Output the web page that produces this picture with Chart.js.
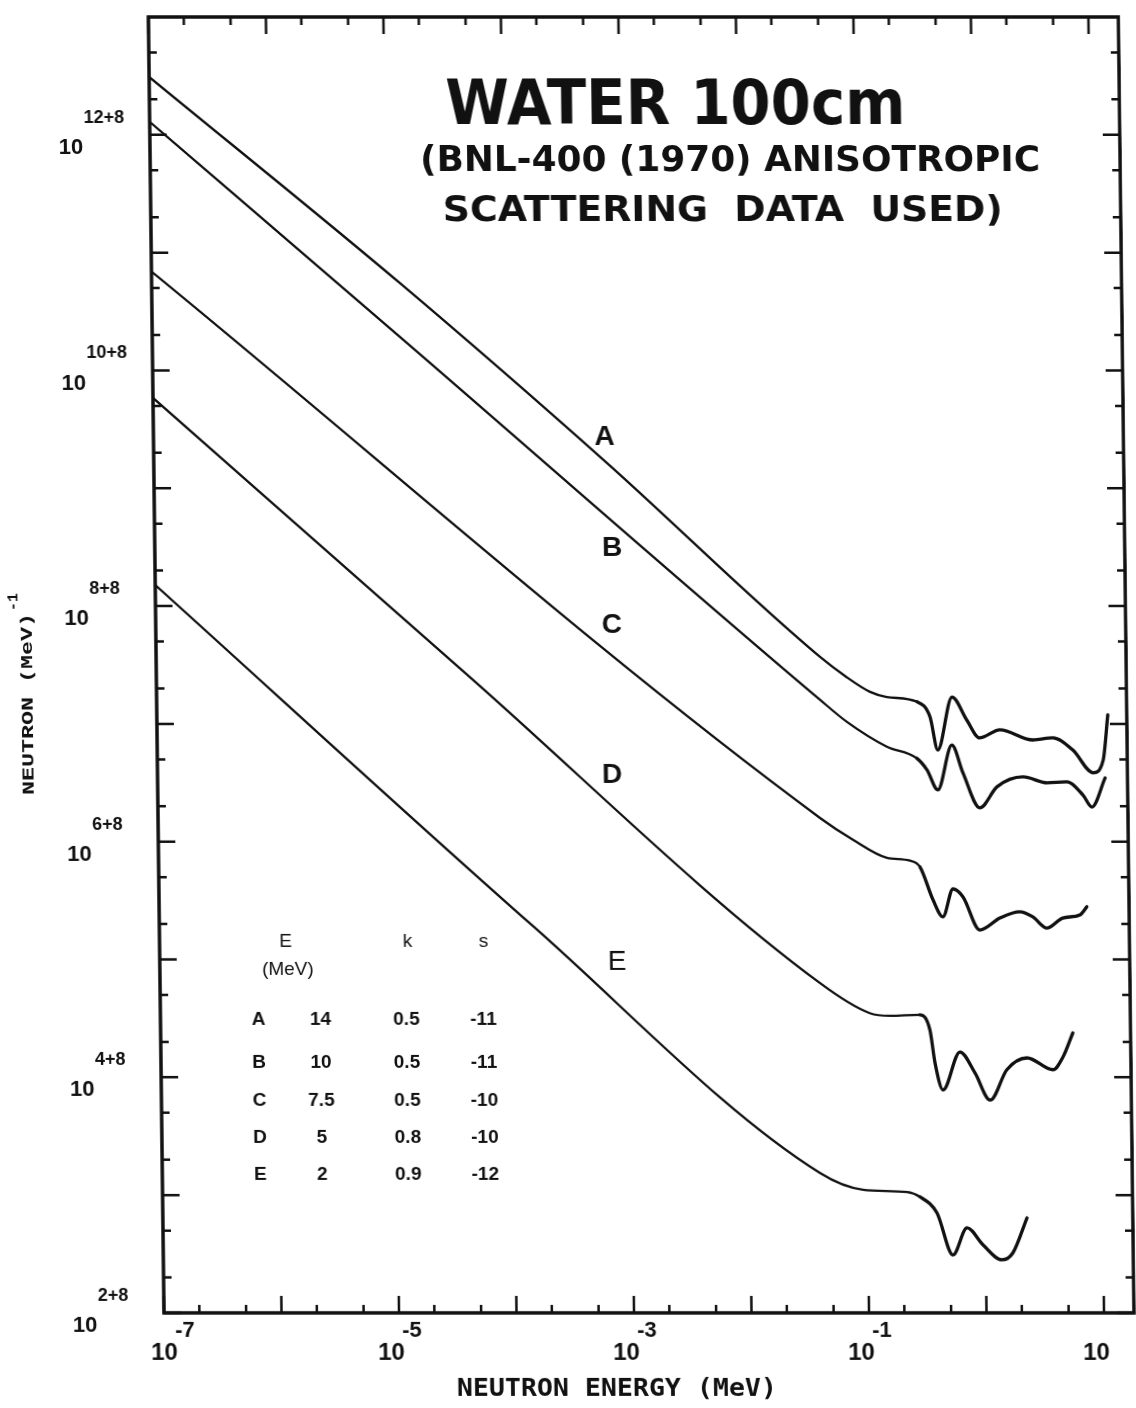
<!DOCTYPE html>
<html>
<head>
<meta charset="utf-8">
<script src="https://cdn.jsdelivr.net/npm/chart.js@4.4.1/dist/chart.umd.min.js"></script>
<style>
  html, body { margin: 0; padding: 0; background: #fff; }
  #plot { display: block; transform: skewX(0.69deg); transform-origin: 0 1313px; }
</style>
</head>
<body>
<canvas id="plot" width="1136" height="1408"></canvas>
<script>
// neutron spectra, energy in MeV, flux per MeV
const energyA = [1e-7, 1.3e-5, 6.9e-4, 0.0447, 0.0726, 0.118, 0.164, 0.296, 0.38, 0.44, 0.588, 0.78, 1.0, 1.49, 2.84, 4.2, 6.2, 9.2, 11.2, 12.4];
const fluxA   = [3.1e12, 5.5e10, 1.7e9, 3.7e7, 2.55e7, 1.87e7, 1.69e7, 1.54e7, 1.15e7, 6.0e6, 1.69e7, 1.08e7, 7.6e6, 8.9e6, 7.3e6, 7.6e6, 6.0e6, 3.84e6, 4.9e6, 1.19e7];

const energyB = [1e-7, 1.28e-5, 0.0443, 0.0745, 0.162, 0.291, 0.354, 0.436, 0.58, 0.716, 0.99, 1.39, 2.32, 3.71, 5.47, 7.48, 8.9, 11.6];
const fluxB   = [1.29e12, 1.93e10, 1.6e7, 1.04e7, 6.4e6, 5.1e6, 4.07e6, 2.75e6, 6.6e6, 3.84e6, 1.94e6, 2.92e6, 3.55e6, 3.16e6, 3.22e6, 2.49e6, 1.97e6, 3.48e6];

const energyC = [1e-7, 0.043, 0.0815, 0.158, 0.248, 0.302, 0.387, 0.468, 0.573, 0.696, 0.96, 1.43, 2.11, 2.72, 3.57, 4.9, 6.85, 7.86];
const fluxC   = [6.9e10, 1.59e6, 1.04e6, 7.3e5, 6.9e5, 6.1e5, 3.2e5, 2.3e5, 3.97e5, 3.4e5, 1.78e5, 2.25e5, 2.54e5, 2.3e5, 1.85e5, 2.25e5, 2.39e5, 2.8e5];

const energyD = [1e-7, 4.24e-5, 0.0414, 0.109, 0.162, 0.291, 0.353, 0.387, 0.45, 0.632, 0.844, 1.13, 1.58, 2.35, 3.9, 4.76, 5.8];
const fluxD   = [5.85e9, 2.71e7, 6.3e4, 3.5e4, 3.32e4, 3.39e4, 2.52e4, 1.32e4, 7.8e3, 1.64e4, 1.09e4, 6.4e3, 1.16e4, 1.46e4, 1.16e4, 1.49e4, 2.38e4];

const energyE = [1e-7, 1.54e-4, 0.0395, 0.0916, 0.217, 0.279, 0.388, 0.526, 0.697, 0.95, 1.37, 1.70, 2.26];
const fluxE   = [1.51e8, 1.89e5, 1.54e3, 1.11e3, 1.06e3, 966, 706, 310, 527, 378, 282, 323, 640];

// letter written next to each curve (energy, flux where it sits)
const curveNames  = ['A', 'B', 'C', 'D', 'E'];
const labelEnergy = [6.9e-4, 7.8e-4, 7.6e-4, 7.4e-4, 7.8e-4];
const labelFlux   = [2.7e9, 3.1e8, 6.9e7, 3.7e6, 9.5e4];

// source table in the lower left
const tableSource = ['A', 'B', 'C', 'D', 'E'];
const tableEnergy = ['14', '10', '7.5', '5', '2'];
const tableK      = ['0.5', '0.5', '0.5', '0.8', '0.9'];
const tableS      = ['-11', '-11', '-10', '-10', '-12'];

// axes
const xDecades   = [-7, -6, -5, -4, -3, -2, -1, 0, 1];
const yDecades   = [2, 3, 4, 5, 6, 7, 8, 9, 10, 11, 12];
const minorSteps = [1, 2, 5];
const xLabelExps = [-7, -5, -3, -1, 1];
const xLabelSups = ['-7', '-5', '-3', '-1', ''];
const yLabelExps = [12, 10, 8, 6, 4, 2];
const yLabelSups = ['12+8', '10+8', '8+8', '6+8', '4+8', '2+8'];

const ink = '#111';

function points(es, fs) {
  return es.map((e, i) => ({ x: e, y: fs[i] }));
}

function fitText(ctx, text, x, y, w, font) {
  ctx.font = font;
  const m = ctx.measureText(text).width;
  ctx.save();
  ctx.translate(x, y);
  ctx.scale(w / m, 1);
  ctx.textAlign = 'left';
  ctx.fillText(text, 0, 0);
  ctx.restore();
}

const paperPlugin = {
  id: 'paper',
  afterDraw(chart) {
    const ctx = chart.ctx;
    const a = chart.chartArea;
    const xs = chart.scales.x, ys = chart.scales.y;
    ctx.save();
    ctx.strokeStyle = ink;
    ctx.fillStyle = ink;

    // frame
    ctx.lineWidth = 3.5;
    ctx.strokeRect(a.left, a.top, a.right - a.left, a.bottom - a.top);

    // inward ticks on all four sides
    ctx.lineWidth = 2.5;
    ctx.beginPath();
    xDecades.forEach(d => minorSteps.forEach(m => {
      const v = m * Math.pow(10, d);
      if (v < xs.min || v > xs.max) return;
      const px = xs.getPixelForValue(v);
      const len = m === 1 ? 17 : 8;
      ctx.moveTo(px, a.bottom); ctx.lineTo(px, a.bottom - len);
      ctx.moveTo(px, a.top); ctx.lineTo(px, a.top + len);
    }));
    yDecades.forEach(d => minorSteps.forEach(m => {
      const v = m * Math.pow(10, d);
      if (v < ys.min || v > ys.max) return;
      const py = ys.getPixelForValue(v);
      const len = m === 1 ? 17 : 8;
      ctx.moveTo(a.left, py); ctx.lineTo(a.left + len, py);
      ctx.moveTo(a.right, py); ctx.lineTo(a.right - len, py);
    }));
    ctx.stroke();

    // tick labels
    ctx.textBaseline = 'middle';
    xLabelExps.forEach((e, i) => {
      const px = xs.getPixelForValue(Math.pow(10, e)) + (i === 0 ? 8 : 0);
      ctx.textAlign = 'center';
      ctx.font = 'bold 24px "Liberation Sans"';
      ctx.fillText('10', px - 8, a.bottom + 40);
      ctx.textAlign = 'left';
      ctx.font = 'bold 22px "Liberation Sans"';
      ctx.fillText(xLabelSups[i], px + 3, a.bottom + 18);
    });
    yLabelExps.forEach((e, i) => {
      const py = ys.getPixelForValue(Math.pow(10, e));
      ctx.textAlign = 'center';
      ctx.font = 'bold 22px "Liberation Sans"';
      ctx.fillText('10', a.left - 79, py + 13);
      ctx.textAlign = 'left';
      ctx.font = 'bold 18px "Liberation Sans"';
      ctx.fillText(yLabelSups[i], a.left - 66, py - 17);
    });

    // axis titles
    ctx.textBaseline = 'alphabetic';
    fitText(ctx, 'NEUTRON ENERGY (MeV)', 456, 1396, 320, 'bold 24px "DejaVu Sans Mono"');
    ctx.save();
    ctx.translate(40, 795);
    ctx.rotate(-Math.PI / 2);
    fitText(ctx, 'NEUTRON (MeV)', 0, 0, 182, 'bold 17px "Liberation Mono"');
    ctx.font = 'bold 15px "Liberation Mono"';
    ctx.fillText('-1', 184, -14);
    ctx.restore();

    // title block
    fitText(ctx, 'WATER 100cm', 460, 124, 460, 'bold 62px "DejaVu Sans"');
    fitText(ctx, '(BNL-400 (1970) ANISOTROPIC', 434, 171, 620, 'bold 36px "DejaVu Sans"');
    fitText(ctx, 'SCATTERING  DATA  USED)', 456, 221, 560, 'bold 36px "DejaVu Sans"');

    // curve letters
    ctx.textAlign = 'center';
    ctx.textBaseline = 'middle';
    curveNames.forEach((n, i) => {
      ctx.font = (n === 'E' ? '' : 'bold ') + '28px "Liberation Sans"';
      ctx.fillText(n, xs.getPixelForValue(labelEnergy[i]), ys.getPixelForValue(labelFlux[i]));
    });

    // source table
    ctx.font = '19px "Liberation Sans"';
    ctx.fillText('E', 290, 942);
    ctx.fillText('(MeV)', 292, 970);
    ctx.fillText('k', 412, 942);
    ctx.fillText('s', 488, 942);
    const rowY = [1020, 1063, 1101, 1138, 1175];
    ctx.font = 'bold 19px "Liberation Sans"';
    tableSource.forEach((s, i) => {
      ctx.fillText(s, 262, rowY[i]);
      ctx.fillText(tableEnergy[i], 324, rowY[i]);
      ctx.fillText(tableK[i], 410, rowY[i]);
      ctx.fillText(tableS[i], 487, rowY[i]);
    });
    ctx.restore();
  }
};

const curveStyle = {
  borderColor: ink,
  borderWidth: 2.3,
  pointRadius: 0,
  fill: false,
  cubicInterpolationMode: 'monotone',
  borderJoinStyle: 'round',
  borderCapStyle: 'round',
  // the pen ran heavier over the resonance wiggles
  segment: { borderWidth: c => (c.p0.parsed.x >= 0.25 ? 3.3 : 2.3) }
};

new Chart(document.getElementById('plot'), {
  type: 'line',
  data: {
    datasets: [
      { label: 'A', data: points(energyA, fluxA), ...curveStyle },
      { label: 'B', data: points(energyB, fluxB), ...curveStyle },
      { label: 'C', data: points(energyC, fluxC), ...curveStyle },
      { label: 'D', data: points(energyD, fluxD), ...curveStyle },
      { label: 'E', data: points(energyE, fluxE), ...curveStyle }
    ]
  },
  options: {
    responsive: false,
    animation: false,
    layout: { padding: { left: 164, right: 2, top: 17, bottom: 95 } },
    plugins: { legend: { display: false }, tooltip: { enabled: false } },
    scales: {
      x: { type: 'logarithmic', min: 1e-7, max: 18, display: false },
      y: { type: 'logarithmic', min: 1e2, max: 1e13, display: false }
    }
  },
  plugins: [paperPlugin]
});
</script>
</body>
</html>
